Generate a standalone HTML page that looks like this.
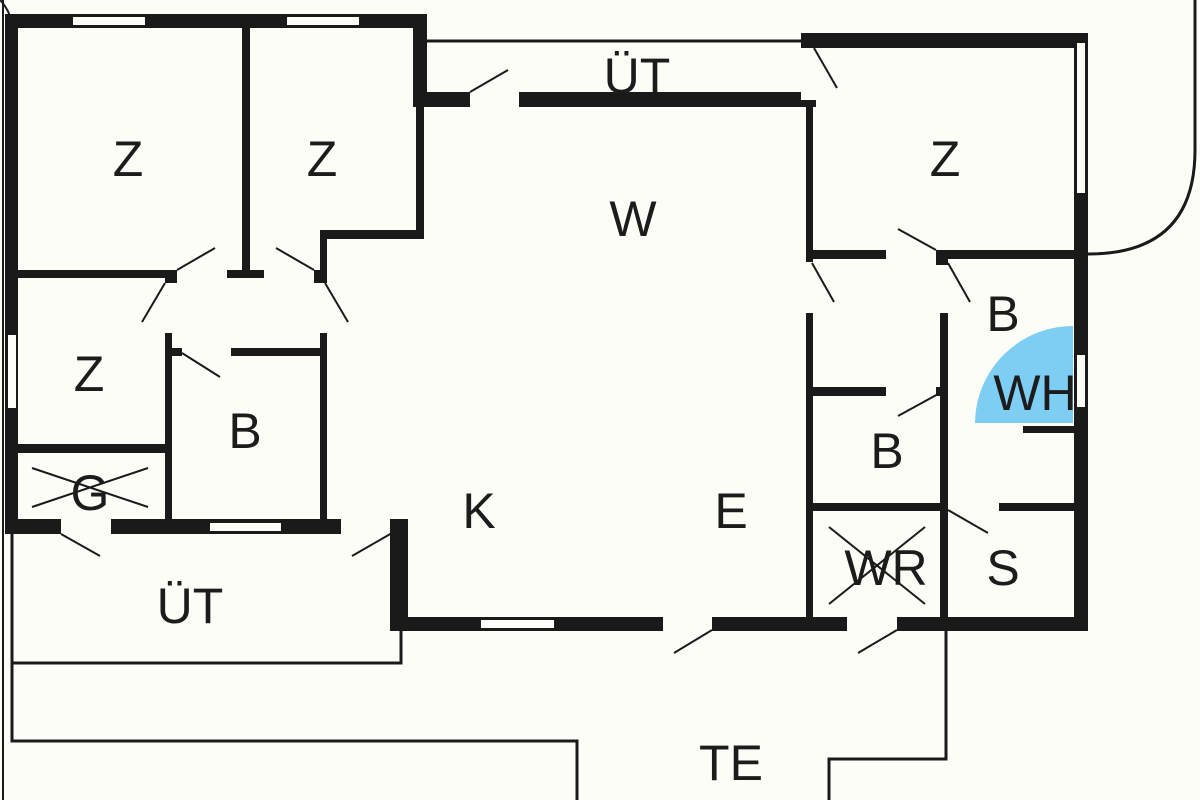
<!DOCTYPE html>
<html><head><meta charset="utf-8"><style>
html,body{margin:0;padding:0;background:#fdfdf8;}
svg{display:block}
text{font-family:"Liberation Sans",sans-serif;font-size:50px;fill:#1c1c1c;text-anchor:middle}
</style></head><body>
<svg width="1200" height="800" viewBox="0 0 1200 800" xmlns="http://www.w3.org/2000/svg">
<rect width="1200" height="800" fill="#fdfdf8"/>
<g fill="#1a1a1a">
<!-- top left block wall -->
<rect x="5" y="14" width="422" height="14"/>
<rect x="5" y="14" width="13" height="520"/>
<rect x="413" y="14" width="14" height="93"/>
<rect x="416" y="100" width="8" height="139"/>
<rect x="320" y="230" width="104" height="9"/>
<rect x="320" y="230" width="7" height="53"/>
<rect x="242" y="28" width="8" height="247"/>
<rect x="227" y="270" width="37" height="8"/>
<rect x="18" y="270" width="159" height="8"/>
<rect x="165" y="270" width="12" height="13"/>
<rect x="314" y="270" width="13" height="13"/>
<!-- B left -->
<rect x="165" y="333" width="7" height="190"/>
<rect x="320" y="333" width="7" height="190"/>
<rect x="172" y="348" width="10" height="8"/>
<rect x="231" y="348" width="92" height="8"/>
<rect x="18" y="444" width="150" height="9"/>
<!-- bottom of left block -->
<rect x="5" y="519" width="56" height="15"/>
<rect x="111" y="519" width="230" height="15"/>
<rect x="390" y="519" width="18" height="112"/>
<rect x="394" y="617" width="269" height="14"/>
<rect x="712" y="617" width="135" height="14"/>
<rect x="897" y="617" width="191" height="14"/>
<!-- upper corridor -->
<rect x="427" y="92" width="43" height="15"/>
<rect x="519" y="92" width="282" height="15"/>
<rect x="801" y="100" width="15" height="7"/>
<!-- right block -->
<rect x="801" y="33" width="287" height="15"/>
<rect x="1074" y="33" width="14" height="598"/>
<rect x="806" y="100" width="7" height="162"/>
<rect x="806" y="313" width="7" height="318"/>
<rect x="806" y="250" width="80" height="9"/>
<rect x="936" y="250" width="138" height="9"/>
<rect x="936" y="250" width="12" height="15"/>
<rect x="940" y="313" width="8" height="318"/>
<rect x="806" y="387" width="80" height="9"/>
<rect x="936" y="387" width="12" height="9"/>
<rect x="1023" y="426" width="51" height="7"/>
<rect x="806" y="503" width="142" height="8"/>
<rect x="999" y="503" width="75" height="8"/>
</g>
<!-- windows -->
<g fill="#fdfdf8">
<rect x="73" y="17" width="72" height="8"/>
<rect x="287" y="17" width="72" height="8"/>
<rect x="8" y="335" width="8" height="73"/>
<rect x="1077" y="43" width="8" height="150"/>
<rect x="1077" y="355" width="8" height="52"/>
<rect x="210" y="523" width="71" height="8"/>
<rect x="481" y="620" width="73" height="8"/>
</g>
<path d="M1073 423 L975 423 A98 98 0 0 1 1073 326 Z" fill="#7ecdf2"/>
<g stroke="#1a1a1a" fill="none" stroke-width="2">
<path d="M177 270 L215 248 M165 283 L142 322 M314 270 L276 248 M325 283 L348 322"/>
<path d="M182 353 L220 377"/>
<path d="M470 92 L508 70 M814 48 L837 88 M812 263 L834 302 M936 250 L898 229 M948 263 L970 302 M940 393 L898 416 M948 510 L988 533"/>
<path d="M61 534 L100 556 M392 533 L352 556 M712 630 L674 653 M897 630 L858 653"/>
<path d="M32 468 L148 507 M32 507 L148 468 M829 527 L925 604 M829 604 L925 527"/>
<path d="M3 0 L3 800" stroke-width="2"/>
<path d="M0 0 Q6 6 10 16"/>
<path d="M427 41 L801 41" stroke-width="3"/>
<path d="M12 534 L12 741 L577 741 L577 800" stroke-width="3"/>
<path d="M12 663 L401 663 L401 631" stroke-width="3"/>
<path d="M946 631 L946 759 L829 759 L829 800" stroke-width="3"/>
<path d="M1088 254 Q1195 254 1195 150 L1195 0" stroke-width="3"/>
</g>
<text x="128" y="176">Z</text>
<text x="322" y="176">Z</text>
<text x="89" y="391">Z</text>
<text x="245" y="448">B</text>
<text x="90" y="510">G</text>
<text x="637" y="93">ÜT</text>
<text x="633" y="236">W</text>
<text x="945" y="176">Z</text>
<text x="1003" y="331">B</text>
<text x="1035" y="410">WH</text>
<text x="887" y="468">B</text>
<text x="479" y="528">K</text>
<text x="731" y="528">E</text>
<text x="886" y="585">WR</text>
<text x="1003" y="585">S</text>
<text x="190" y="623">ÜT</text>
<text x="731" y="780">TE</text>
</svg>
</body></html>
